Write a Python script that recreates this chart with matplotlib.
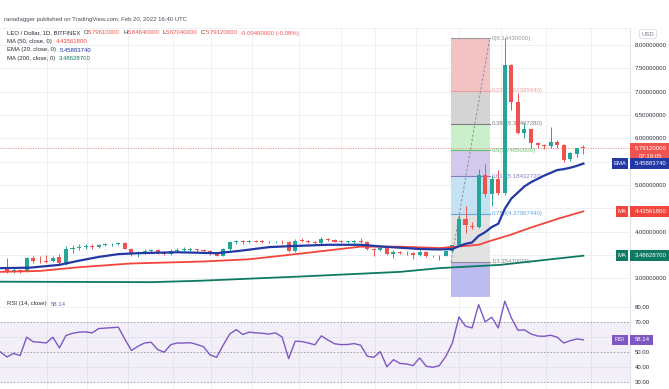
import matplotlib
matplotlib.use("Agg")
import matplotlib.pyplot as plt
import matplotlib.transforms as mtransforms
from matplotlib.patches import Rectangle
import numpy as np

plt.rcParams['font.family'] = ['Liberation Sans', 'DejaVu Sans']

# ---------------- data ----------------
opens = [3.24, 3.14, 3.19, 3.15, 3.43, 3.38, 3.38, 3.37, 3.45, 3.33,
         3.63, 3.66, 3.68, 3.69, 3.67, 3.72, 3.73, 3.74, 3.75, 3.64,
         3.52, 3.55, 3.59, 3.60, 3.55, 3.53, 3.59, 3.61, 3.61, 3.62,
         3.60, 3.58, 3.52, 3.49, 3.62, 3.77, 3.80, 3.77, 3.80, 3.79,
         3.78, 3.77, 3.79, 3.77, 3.59, 3.81, 3.80, 3.78, 3.76, 3.85,
         3.82, 3.79, 3.78, 3.78, 3.80, 3.78, 3.63, 3.61, 3.66, 3.53,
         3.57, 3.55, 3.54, 3.50, 3.56, 3.49, 3.47, 3.49, 3.58, 3.71,
         4.28, 4.13, 4.11, 5.22, 4.80, 5.12, 4.82, 7.57, 6.77, 6.12,
         6.19, 5.91, 5.85, 5.83, 5.92, 5.86, 5.55, 5.67, 5.7961]
highs = [3.43, 3.22, 3.21, 3.46, 3.48, 3.47, 3.50, 3.47, 3.52, 3.70,
         3.72, 3.73, 3.74, 3.73, 3.74, 3.75, 3.76, 3.77, 3.77, 3.66,
         3.58, 3.62, 3.64, 3.62, 3.58, 3.63, 3.66, 3.68, 3.66, 3.64,
         3.63, 3.60, 3.55, 3.65, 3.80, 3.82, 3.82, 3.82, 3.83, 3.82,
         3.81, 3.81, 3.82, 3.80, 3.84, 3.86, 3.83, 3.80, 3.88, 3.87,
         3.85, 3.82, 3.81, 3.83, 3.87, 3.80, 3.66, 3.69, 3.68, 3.60,
         3.59, 3.58, 3.56, 3.60, 3.58, 3.51, 3.50, 3.60, 3.72, 4.35,
         4.54, 4.20, 5.35, 5.45, 5.20, 5.32, 8.1443, 7.60, 6.97, 6.32,
         6.21, 5.93, 5.88, 6.25, 5.96, 5.88, 5.70, 5.80, 5.8464]
lows = [3.12, 3.11, 3.12, 3.14, 3.34, 3.33, 3.34, 3.35, 3.30, 3.28,
        3.55, 3.60, 3.64, 3.63, 3.65, 3.69, 3.70, 3.72, 3.62, 3.48,
        3.46, 3.52, 3.55, 3.52, 3.50, 3.51, 3.56, 3.58, 3.57, 3.57,
        3.55, 3.50, 3.47, 3.47, 3.60, 3.74, 3.74, 3.75, 3.77, 3.76,
        3.75, 3.75, 3.74, 3.57, 3.57, 3.78, 3.76, 3.74, 3.74, 3.80,
        3.77, 3.75, 3.75, 3.74, 3.76, 3.60, 3.47, 3.58, 3.50, 3.43,
        3.53, 3.50, 3.41, 3.48, 3.46, 3.45, 3.40, 3.47, 3.56, 3.69,
        3.98, 4.05, 4.08, 4.75, 4.54, 4.78, 4.78, 6.60, 6.10, 6.01,
        5.79, 5.80, 5.78, 5.80, 5.80, 5.50, 5.52, 5.60, 5.6704]
closes = [3.14, 3.19, 3.15, 3.44, 3.38, 3.37, 3.36, 3.44, 3.33, 3.64,
          3.66, 3.68, 3.69, 3.67, 3.72, 3.73, 3.74, 3.75, 3.64, 3.52,
          3.55, 3.59, 3.60, 3.55, 3.53, 3.59, 3.61, 3.615, 3.62, 3.60,
          3.58, 3.52, 3.49, 3.62, 3.77, 3.80, 3.77, 3.80, 3.79, 3.78,
          3.77, 3.79, 3.77, 3.59, 3.81, 3.80, 3.78, 3.76, 3.85, 3.82,
          3.79, 3.78, 3.785, 3.80, 3.78, 3.63, 3.61, 3.66, 3.53, 3.57,
          3.55, 3.54, 3.50, 3.56, 3.49, 3.47, 3.49, 3.58, 3.71, 4.28,
          4.14, 4.11, 5.22, 4.80, 5.12, 4.82, 7.57, 6.77, 6.11, 6.19,
          5.91, 5.85, 5.83, 5.92, 5.86, 5.54, 5.68, 5.79, 5.7912]

# moving averages, read at bar positions (bar index, value)
ema20_idx = [-1.1, 3.5, 8, 11, 14, 17, 20, 26, 32, 35.5, 40, 43, 49, 54, 57.5,
             63, 66, 68, 69, 70, 71, 72, 73, 74, 75, 76, 77, 78, 79, 80, 81,
             82, 83, 84, 85, 86, 87, 88]
ema20_val = [3.22, 3.23, 3.29, 3.38, 3.46, 3.52, 3.54, 3.56, 3.54, 3.59, 3.67,
             3.69, 3.72, 3.72, 3.68, 3.63, 3.62, 3.63, 3.69, 3.74, 3.77, 3.91,
             3.99, 4.10, 4.17, 4.49, 4.71, 4.84, 4.97, 5.06, 5.13, 5.20, 5.26,
             5.32, 5.34, 5.37, 5.41, 5.4588374]
ma50_idx = [-1.1, 5, 11, 19, 29.5, 37, 44.7, 54, 60, 66, 72, 73.7, 76.8,
            79.8, 84.4, 88]
ma50_val = [3.14, 3.16, 3.24, 3.32, 3.36, 3.41, 3.53, 3.68, 3.68, 3.65, 3.72,
            3.80, 3.93, 4.08, 4.29, 4.435618]
ma200_idx = [-1.1, 22, 29.5, 44.7, 60, 66, 75.3, 88]
ma200_val = [2.93, 2.92, 2.95, 3.04, 3.14, 3.22, 3.29, 3.486287]

# RSI(14); the first value belongs to the bar just left of the visible range
rsi_values = [50.0, 46.6, 49.0, 47.5, 59.9, 56.8, 56.5, 56.0, 59.9, 52.7,
              61.0, 62.5, 63.3, 63.5, 62.8, 65.7, 66.0, 66.3, 66.6, 58.5,
              51.0, 53.8, 56.0, 56.5, 51.6, 49.8, 54.9, 56.0, 56.0, 56.2,
              55.0, 53.5, 48.0, 46.4, 54.5, 62.0, 65.0, 61.7, 63.3, 62.8,
              62.5, 62.0, 62.8, 60.0, 45.5, 57.2, 57.0, 56.0, 54.8, 60.8,
              58.0, 55.5, 54.9, 55.0, 55.6, 54.5, 47.1, 46.4, 50.2, 40.0,
              44.8, 42.3, 41.9, 40.8, 46.0, 40.4, 39.7, 40.8, 47.1, 56.0,
              73.5, 67.3, 66.1, 81.8, 70.2, 73.3, 66.1, 84.1, 72.9, 64.6,
              64.8, 62.1, 60.7, 60.5, 61.2, 59.9, 56.0, 57.6, 58.7, 58.14]

fib_levels = [0, 0.236, 0.382, 0.5, 0.618, 0.786, 1]
fib_high = 8.1443
fib_low = 3.3547
fib_start, fib_end = 67.8, 73.7

price_grid = [3.0, 3.5, 4.0, 4.5, 5.0, 5.5, 6.0, 6.5, 7.0, 7.5, 8.0]
price_ticks = [3.0, 4.0, 5.0, 6.0, 6.5, 7.0, 7.5, 8.0]   # labels not hidden by badges
rsi_grid = [40, 60, 80]
rsi_ticks = [30, 40, 50, 70, 80]
last_ohlc = [("O", "5.79610000"), ("H", "5.84640000"), ("L", "5.67040000"),
             ("C", "5.79120000")]
last_change = "-0.00490000 (-0.08%)"
last_price = 5.7912
countdown = "07:19:05"

# ---------------- styling ----------------
W, H = 669, 389
PLOT_R = 630
PRICE_TOP, PRICE_BOT = 28, 297
RSI_TOP, RSI_BOT = 297, 389
X0_PX, STEP_PX = 7.0, 6.55
UP, DOWN = '#26a69a', '#ef5350'
EMA_C, MA50_C, MA200_C = '#2338a3', '#f2453d', '#0f7a62'
RSI_C = '#7e57c2'
GRID_C = '#eef0f5'
TXT = '#2a2e39'
FS = 4.3
grid_x = [6.1, 12.2, 18.5, 25.3, 31.1, 37.4, 44.6, 51.0, 56.2, 62.4, 69.0,
          75.4, 82.3, 89.2]

fig = plt.figure(figsize=(W / 100, H / 100), dpi=100)
fig.patch.set_facecolor('white')
ax = fig.add_axes([0, 1 - PRICE_BOT / H, PLOT_R / W, (PRICE_BOT - PRICE_TOP) / H])
axr = fig.add_axes([0, 1 - RSI_BOT / H, PLOT_R / W, (RSI_BOT - RSI_TOP) / H])

xlim = ((0 - X0_PX) / STEP_PX, (PLOT_R - X0_PX) / STEP_PX)
p_ylim = (2.602, 8.362)
r_ylim = (25.1, 86.9)
for a in (ax, axr):
    a.set_xlim(*xlim)
    a.set_xticks([])
    for s in ('left', 'top', 'bottom'):
        a.spines[s].set_visible(False)
    a.spines['right'].set_color('#e0e3eb')
    a.spines['right'].set_linewidth(0.8)
    for gx in grid_x:
        a.axvline(gx, color=GRID_C, lw=0.7, zorder=0)
ax.spines['bottom'].set_visible(True)
ax.spines['bottom'].set_color('#e0e3eb')
ax.spines['bottom'].set_linewidth(0.8)
ax.spines['top'].set_visible(True)
ax.spines['top'].set_color('#eef0f5')
ax.spines['top'].set_linewidth(0.6)

ax.set_ylim(*p_ylim)
ax.yaxis.tick_right()
ax.set_yticks(price_ticks)
ax.set_yticklabels([f"{t:.8f}" for t in price_ticks])
ax.tick_params(axis='y', length=0, pad=3.5, labelsize=FS, labelcolor=TXT)
for t in price_grid:
    ax.axhline(t, color=GRID_C, lw=0.7, zorder=0)

# ---- Fibonacci retracement ----
fib_prices = [fib_high - l * (fib_high - fib_low) for l in fib_levels]
band_colors = ['#f3c3c3', '#d4d4d4', '#c9efcb', '#d3c8ee', '#c5e2f4', '#e2e2e2']
line_colors = ['#9a9a9a', '#f29b9b', '#7d7d7d', '#66bb6a', '#8c7bc4', '#5ea9e6', '#8a8a8a']
for k in range(len(band_colors)):
    ax.fill_between([fib_start, fib_end], fib_prices[k + 1], fib_prices[k],
                    color=band_colors[k], lw=0, zorder=1)
ax.fill_between([fib_start, fib_end], p_ylim[0], fib_low, color='#bdbcf1', lw=0, zorder=1)
for lvl, pr, c in zip(fib_levels, fib_prices, line_colors):
    ax.plot([fib_start, fib_end], [pr, pr], color=c, lw=0.8, zorder=1.5)
    ax.text(fib_end + 0.25, pr, f"{lvl:g}({pr:.8f})", color=c, fontsize=FS,
            va='center', ha='left', zorder=2)
ax.plot([fib_start, fib_end], [fib_low, fib_high], color='#8a8d96', lw=0.7,
        ls=(0, (2.5, 2)), zorder=1.6)

# ---- last price line ----
ax.axhline(last_price, color='#f08a8a', lw=0.6, ls=(0, (1.5, 1.5)), zorder=1.2)

# ---- candles ----
idx = np.arange(len(closes))
o, h, l, c = map(np.array, (opens, highs, lows, closes))
cols = np.where(c >= o, UP, DOWN)
ax.vlines(idx, l, h, colors=cols, lw=0.7, zorder=3)
body_bot = np.minimum(o, c)
body_h = np.maximum(np.abs(c - o), 0.012)
ax.bar(idx, body_h, bottom=body_bot, width=0.62, color=cols, lw=0, zorder=3.2)

# ---- moving averages ----
ax.plot(ma200_idx, ma200_val, color=MA200_C, lw=1.3, zorder=4)
ax.plot(ma50_idx, ma50_val, color=MA50_C, lw=1.3, zorder=4)
ax.plot(ema20_idx, ema20_val, color=EMA_C, lw=1.6, zorder=4.2)

# ---- RSI panel ----
axr.set_ylim(*r_ylim)
axr.yaxis.tick_right()
axr.set_yticks(rsi_ticks)
axr.set_yticklabels([f"{t:.2f}" for t in rsi_ticks])
axr.tick_params(axis='y', length=0, pad=3.5, labelsize=FS, labelcolor=TXT)
for t in rsi_grid:
    axr.axhline(t, color=GRID_C, lw=0.7, zorder=0)
axr.axhspan(30, 70, color='#7e57c2', alpha=0.09, lw=0, zorder=0.5)
for t in (30, 50, 70):
    axr.axhline(t, color='#9598a1', lw=0.6, ls=(0, (2, 2)), zorder=1)
rsi_x = np.arange(-1, len(rsi_values) - 1)
axr.plot(rsi_x, rsi_values, color=RSI_C, lw=1.0, zorder=3)

# ---- badges on the right scale ----
figpx = mtransforms.Affine2D().scale(1 / W, 1 / H) + fig.transFigure


def badge(a, value, ppu, color, label, tag=None, h_px=10.5, x1=669,
          sub=None):
    tr = mtransforms.blended_transform_factory(figpx, a.transData)
    hh = h_px / ppu
    top = value + hh / 2
    bot = value - hh / 2
    if sub is not None:
        top = value + 5 / ppu
        bot = value - 12 / ppu
    a.add_patch(Rectangle((PLOT_R, bot), x1 - PLOT_R, top - bot, transform=tr,
                          facecolor=color, edgecolor='none', clip_on=False,
                          zorder=10))
    a.text((PLOT_R + x1) / 2 + 1, value, label, transform=tr, color='white',
           fontsize=FS, ha='center', va='center', clip_on=False, zorder=11)
    if sub is not None:
        a.text((PLOT_R + x1) / 2 + 1, value - 8 / ppu, sub, transform=tr,
               color='white', fontsize=FS, ha='center', va='center',
               clip_on=False, zorder=11)
    if tag is not None:
        tx0 = PLOT_R - 2 - (3.5 + 4.2 * len(tag))
        a.add_patch(Rectangle((tx0, bot), PLOT_R - 2 - tx0, top - bot,
                              transform=tr, facecolor=color, edgecolor='none',
                              clip_on=False, zorder=10))
        a.text((tx0 + PLOT_R - 2) / 2, value, tag, transform=tr, color='white',
               fontsize=FS, ha='center', va='center', clip_on=False, zorder=11)


ppu_p = (PRICE_BOT - PRICE_TOP) / (p_ylim[1] - p_ylim[0])
ppu_r = (RSI_BOT - RSI_TOP) / (r_ylim[1] - r_ylim[0])
badge(ax, last_price, ppu_p, '#ef5350', f"{last_price:.8f}", sub=countdown)
badge(ax, ema20_val[-1], ppu_p, EMA_C, f"{ema20_val[-1]:.8f}", tag='EMA')
badge(ax, ma50_val[-1], ppu_p, MA50_C, f"{ma50_val[-1]:.8f}", tag='MA')
badge(ax, ma200_val[-1], ppu_p, MA200_C, f"{ma200_val[-1]:.8f}", tag='MA')
badge(axr, rsi_values[-1], ppu_r, RSI_C, f"{rsi_values[-1]:.2f}", tag='RSI',
      x1=653, h_px=10)

# USD label
fig.text(648 / W, 1 - 34 / H, 'USD', fontsize=FS, color='#787b86', ha='center',
         va='center', bbox=dict(boxstyle='round,pad=0.35,rounding_size=0.4',
                                fc='white', ec='#d1d4dc', lw=0.5))

# ---- header / legends ----
renderer = fig.canvas.get_renderer()


def chain(x_px, y_px, parts):
    x = x_px
    for s, col, gap in parts:
        t = fig.text(x / W, 1 - y_px / H, s, color=col, fontsize=FS,
                     ha='left', va='center')
        x += t.get_window_extent(renderer).width + gap


fig.text(4 / W, 1 - 20 / H,
         'ranadagger published on TradingView.com, Feb 20, 2022 16:40 UTC',
         fontsize=FS, color='#4a4e59', ha='left', va='center')
parts = [("LEO / Dollar, 1D, BITFINEX", TXT, 3)]
for letter, val in last_ohlc:
    parts += [(letter, TXT, 0.3), (val, '#ef5350', 3)]
parts += [(last_change, '#ef5350', 0)]
chain(7, 33, parts)
chain(7, 41.5, [("MA (50, close, 0)", TXT, 4), (f"{ma50_val[-1]:.8f}", MA50_C, 0)])
chain(7, 50, [("EMA (20, close, 0)", TXT, 4), (f"{ema20_val[-1]:.8f}", EMA_C, 0)])
chain(7, 58.5, [("MA (200, close, 0)", TXT, 4), (f"{ma200_val[-1]:.8f}", MA200_C, 0)])
chain(7, 304, [("RSI (14, close)", TXT, 4), (f"{rsi_values[-1]:.2f}", RSI_C, 0)])

fig.savefig('out.png', dpi=100, facecolor='white')
